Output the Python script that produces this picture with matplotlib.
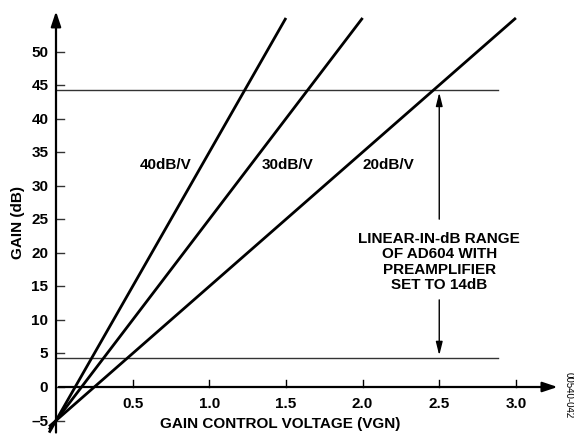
import numpy as np
import matplotlib
matplotlib.use("Agg")
import matplotlib.pyplot as plt

plt.rcParams['font.family'] = ['Liberation Sans', 'DejaVu Sans']
plt.rcParams['font.weight'] = 'bold'

# gain slopes (dB/V), all lines start at -5 dB for 0 V
slopes = [40, 30, 20]
slope_labels = ["40dB/V", "30dB/V", "20dB/V"]
gain_at_zero = -5
gain_top = 55
label_pos = [(0.714, 33.2), (1.51, 33.2), (2.17, 33.2)]

# linear-in-dB range limits
range_low = 4.3
range_high = 44.3
range_x = 2.5
range_end = 2.88

xticks = [0.5, 1.0, 1.5, 2.0, 2.5, 3.0]
yticks = [-5, 0, 5, 10, 15, 20, 25, 30, 35, 40, 45, 50]
ytick_labels = ["\u20135"] + [str(v) for v in yticks[1:]]

FS = 11

fig = plt.figure(figsize=(5.74, 4.35), dpi=100)
ax = fig.add_axes([0, 0, 1, 1])
# pixel mapping: x=0 at px 56, 153.3 px per volt; y=0 at px 388, 6.71 px per dB
ax.set_xlim(-56 / 153.3, (574 - 56) / 153.3)
ax.set_ylim(-(435 - 388) / 6.71, 388 / 6.71)
ax.axis('off')

# axes with arrows
ax.annotate("", xy=(3.29, 0), xytext=(0, 0),
            arrowprops=dict(arrowstyle="-|>,head_length=0.9,head_width=0.3", lw=1.6, color="black"))
ax.annotate("", xy=(0, 56.4), xytext=(0, -7.2),
            arrowprops=dict(arrowstyle="-|>,head_length=0.9,head_width=0.3", lw=1.6, color="black"))

# ticks
for x in xticks:
    ax.plot([x, x], [0, 1.1], color="black", lw=1.0)
    ax.text(x, -2.45, "%.1f" % x, ha="center", va="center", fontsize=FS)
for y, lab in zip(yticks, ytick_labels):
    ax.plot([0, 0.055], [y, y], color="#333333", lw=1.0)
    ax.text(-0.05, y, lab, ha="right", va="center", fontsize=FS)

# range lines
ax.plot([0, range_end], [range_high, range_high], color="#333333", lw=1.0)
ax.plot([0, range_end], [range_low, range_low], color="#333333", lw=1.0)

# gain lines
for s, lab, (lx, ly) in zip(slopes, slope_labels, label_pos):
    x_end = (gain_top - gain_at_zero) / s
    xs = np.array([-0.045, x_end])
    ax.plot(xs, gain_at_zero + s * xs, color="black", lw=2.0, solid_capstyle="butt")
    ax.text(lx, ly, lab, ha="center", va="center", fontsize=FS)

# range arrows
ax.annotate("", xy=(range_x, range_high), xytext=(range_x, 24.6),
            arrowprops=dict(arrowstyle="-|>,head_length=0.8,head_width=0.2", lw=1.0, color="black"))
ax.annotate("", xy=(range_x, range_low), xytext=(range_x, 13.4),
            arrowprops=dict(arrowstyle="-|>,head_length=0.8,head_width=0.2", lw=1.0, color="black"))
ax.text(range_x, 18.8, "LINEAR-IN-dB RANGE\nOF AD604 WITH\nPREAMPLIFIER\nSET TO 14dB",
        ha="center", va="center", fontsize=FS, linespacing=1.12)

# axis titles
ax.text(1.46, -5.4, "GAIN CONTROL VOLTAGE (VGN)", ha="center", va="center", fontsize=FS)
ax.text(-0.248, 24.7, "GAIN (dB)", ha="center", va="center", rotation=90, fontsize=FS)
ax.text(3.345, -1.0, "00540-042", ha="center", va="center", rotation=270,
        fontsize=7, fontweight="normal")

fig.savefig("out.png", dpi=100)
